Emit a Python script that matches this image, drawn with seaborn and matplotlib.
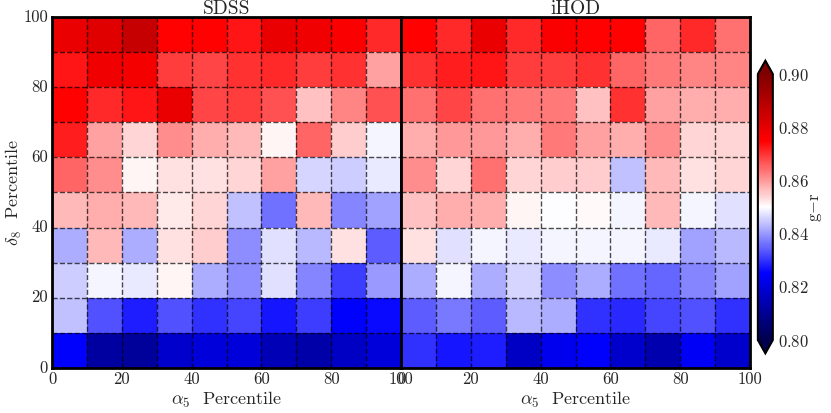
import numpy as np
import matplotlib
matplotlib.use("Agg")
import matplotlib.pyplot as plt
import seaborn as sns

sns.set_style("white")
plt.rcParams['font.family'] = ['serif']
plt.rcParams['font.serif'] = ['cmr10', 'DejaVu Serif']
plt.rcParams['mathtext.fontset'] = 'cm'
plt.rcParams['axes.unicode_minus'] = False
plt.rcParams['axes.formatter.use_mathtext'] = True

# rows listed from top (90-100 percentile of delta_8) to bottom (0-10)
sdss = [
    [0.879, 0.881, 0.886, 0.875, 0.875, 0.873, 0.879, 0.878, 0.876, 0.871],
    [0.873, 0.878, 0.877, 0.869, 0.868, 0.870, 0.871, 0.869, 0.870, 0.859],
    [0.875, 0.871, 0.873, 0.879, 0.868, 0.869, 0.867, 0.856, 0.862, 0.867],
    [0.872, 0.859, 0.854, 0.861, 0.858, 0.857, 0.851, 0.865, 0.855, 0.849],
    [0.865, 0.861, 0.851, 0.853, 0.853, 0.854, 0.859, 0.846, 0.845, 0.848],
    [0.857, 0.858, 0.857, 0.852, 0.854, 0.844, 0.836, 0.857, 0.838, 0.841],
    [0.842, 0.857, 0.842, 0.853, 0.855, 0.839, 0.847, 0.843, 0.853, 0.834],
    [0.845, 0.849, 0.848, 0.851, 0.842, 0.839, 0.847, 0.838, 0.831, 0.840],
    [0.844, 0.833, 0.828, 0.833, 0.830, 0.832, 0.827, 0.831, 0.825, 0.826],
    [0.825, 0.812, 0.811, 0.818, 0.820, 0.820, 0.815, 0.813, 0.817, 0.820],
]
ihod = [
    [0.875, 0.871, 0.879, 0.871, 0.876, 0.875, 0.875, 0.865, 0.871, 0.864],
    [0.870, 0.872, 0.873, 0.869, 0.869, 0.870, 0.865, 0.863, 0.862, 0.862],
    [0.864, 0.868, 0.864, 0.863, 0.863, 0.856, 0.870, 0.859, 0.858, 0.858],
    [0.858, 0.860, 0.860, 0.858, 0.863, 0.859, 0.858, 0.861, 0.854, 0.854],
    [0.861, 0.854, 0.864, 0.854, 0.855, 0.855, 0.844, 0.857, 0.853, 0.854],
    [0.856, 0.858, 0.858, 0.851, 0.850, 0.8505, 0.849, 0.857, 0.849, 0.847],
    [0.853, 0.847, 0.849, 0.848, 0.849, 0.849, 0.849, 0.848, 0.841, 0.843],
    [0.842, 0.849, 0.842, 0.846, 0.839, 0.842, 0.836, 0.835, 0.838, 0.841],
    [0.834, 0.837, 0.834, 0.843, 0.842, 0.830, 0.829, 0.832, 0.833, 0.830],
    [0.830, 0.827, 0.828, 0.817, 0.823, 0.825, 0.818, 0.814, 0.824, 0.818],
]
titles = ["SDSS", "iHOD"]
tick_labels = ["0", "20", "40", "60", "80", "100"]
cbar_ticks = [0.80, 0.82, 0.84, 0.86, 0.88, 0.90]

fig = plt.figure(figsize=(8.31, 4.13), dpi=100)
ax1 = fig.add_axes([0.0626, 0.109, 0.42, 0.85])
ax2 = fig.add_axes([0.4826, 0.109, 0.42, 0.85])
cax = fig.add_axes([0.912, 0.1445, 0.018, 0.7085])

for i, (ax, data, title) in enumerate(zip([ax1, ax2], [sdss, ihod], titles)):
    arr = np.flipud(np.array(data))
    sns.heatmap(arr, ax=ax, cmap="seismic", vmin=0.80, vmax=0.90,
                cbar=(i == 1), cbar_ax=cax if i == 1 else None,
                cbar_kws=dict(extend="both", ticks=cbar_ticks))
    ax.set_ylim(0, 10)
    ax.set_xlim(0, 10)
    ax.set_xticks(np.arange(0, 11, 2))
    ax.set_xticklabels(tick_labels, rotation=0, fontsize=12)
    ax.set_yticks(np.arange(0, 11, 2))
    if i == 0:
        ax.set_yticklabels(tick_labels, rotation=0, fontsize=12)
        ax.set_ylabel(r"$\delta_8$  Percentile", fontsize=13)
        ax.yaxis.set_label_coords(-0.08, 0.5)
    else:
        ax.set_yticklabels([])
    ax.set_xticks(np.arange(1, 10), minor=True)
    ax.set_yticks(np.arange(1, 10), minor=True)
    ax.grid(which="minor", linestyle="--", color="k", alpha=0.7, linewidth=1)
    ax.grid(which="major", linestyle="--", color="k", alpha=0.7, linewidth=1)
    ax.set_axisbelow(False)
    ax.tick_params(which="both", length=0, pad=3)
    ax.set_xlabel(r"$\alpha_5$  Percentile", fontsize=13, labelpad=2)
    ax.set_title(title, fontsize=14, pad=2)
    for s in ax.spines.values():
        s.set_visible(True)
        s.set_linewidth(2)
        s.set_color("k")

cbar = ax2.collections[0].colorbar
cbar.set_label(r"g$-$r", fontsize=12, labelpad=0)
cbar.ax.tick_params(labelsize=12, length=0)
cbar.outline.set_linewidth(1.5)
cbar.outline.set_edgecolor("k")

fig.savefig("out.png", dpi=100)
